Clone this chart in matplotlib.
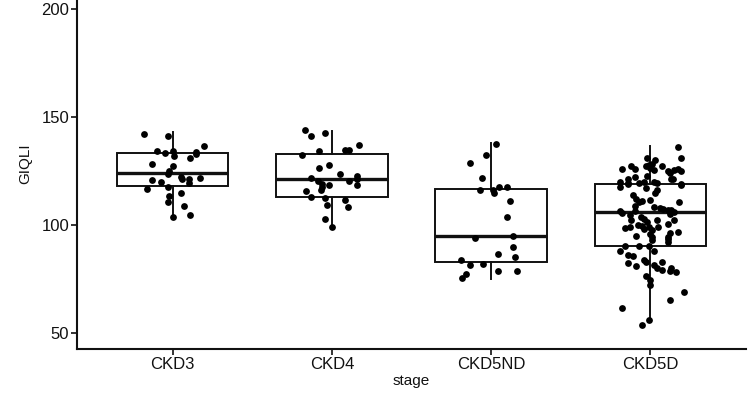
import matplotlib
matplotlib.use("Agg")
import matplotlib.pyplot as plt
import numpy as np

plt.rcParams['font.family'] = ['Liberation Sans', 'DejaVu Sans']

stages = ["CKD3", "CKD4", "CKD5ND", "CKD5D"]

# box statistics
whislo = [103.6, 98.9, 75.0, 55.7]
q1 = [118.0, 112.8, 82.9, 90.4]
med = [124.2, 121.2, 95.0, 105.9]
q3 = [133.2, 132.9, 116.7, 119.0]
whishi = [143.0, 143.7, 138.1, 136.7]

# jittered points: values and horizontal jitter (category units)
ckd3_vals = [142.4, 141.5, 136.7, 134.1, 133.0, 134.4, 133.6, 134.4, 131.9, 130.9,
             128.4, 127.3, 124.9, 123.6, 122.1, 121.4, 121.3, 121.6, 120.8, 119.9,
             119.4, 117.6, 116.8, 113.3, 114.7, 110.6, 108.9, 103.6, 104.5]
ckd3_jit = [-0.18, -0.03, 0.20, 0.15, 0.15, -0.10, -0.05, 0.00, 0.01, 0.11,
            -0.13, 0.00, -0.02, -0.03, 0.05, 0.06, 0.10, 0.17, -0.13, -0.07,
            0.10, -0.03, -0.16, -0.02, 0.05, -0.03, 0.07, 0.00, 0.11]

ckd4_vals = [144.0, 141.4, 142.5, 136.9, 135.0, 134.6, 134.4, 132.7, 127.9, 126.5,
             123.9, 121.8, 120.2, 122.7, 121.3, 120.2, 118.7, 119.0, 118.5, 117.5,
             116.3, 115.9, 112.8, 112.4, 111.7, 109.1, 108.3, 102.8, 99.2]
ckd4_jit = [-0.17, -0.13, -0.04, 0.17, 0.08, 0.11, -0.08, -0.19, -0.02, -0.08,
            0.05, -0.13, -0.09, 0.16, 0.16, 0.11, 0.16, -0.06, -0.02, -0.06,
            -0.07, -0.16, -0.13, -0.04, 0.08, -0.03, 0.10, -0.04, 0.00]

ckd5nd_vals = [137.5, 132.3, 128.8, 121.8, 116.3, 116.2, 114.7, 117.7, 117.7, 111.1,
               103.7, 94.0, 94.8, 89.7, 85.2, 86.4, 83.8, 81.6, 81.9, 78.8,
               78.8, 77.2, 75.3]
ckd5nd_jit = [0.03, -0.03, -0.13, -0.06, -0.07, 0.01, 0.02, 0.05, 0.10, 0.12,
              0.10, -0.10, 0.14, 0.14, 0.15, 0.04, -0.19, -0.13, -0.05, 0.04,
              0.16, -0.16, -0.18]

ckd5d_vals = [136.3, 130.9, 131.0, 130.0, 128.5, 125.8, 127.2, 125.8, 127.2, 126.3,
              125.5, 127.2, 125.2, 124.1, 125.5, 125.8, 125.2, 122.4, 122.7, 121.2,
              120.1, 121.2, 117.5, 118.9, 120.1, 120.0, 119.3, 118.5, 117.2, 116.2,
              114.9, 113.9, 112.0, 110.9, 111.2, 108.8, 111.6, 110.8, 108.5, 106.3,
              105.8, 104.6, 106.3, 108.0, 107.4, 107.0, 107.2, 106.1, 105.0, 103.8,
              102.7, 102.2, 101.5, 102.5, 102.2, 99.2, 98.5, 100.0, 99.5, 98.0,
              99.2, 97.8, 99.0, 100.4, 96.1, 96.9, 95.8, 94.9, 94.6, 94.3,
              93.5, 92.3, 93.0, 88.1, 90.3, 90.3, 90.3, 88.1, 86.1, 85.8,
              83.8, 82.7, 82.3, 80.8, 81.6, 82.7, 80.1, 79.1, 80.1, 78.1,
              78.6, 76.4, 74.6, 72.0, 68.8, 65.3, 61.3, 56.0, 53.7,
              128.0, 119.5, 119.4, 121.3, 119.1]
ckd5d_jit = [0.17, 0.19, -0.02, 0.03, 0.01, -0.18, -0.12, -0.10, -0.03, 0.00,
             0.02, 0.07, 0.11, 0.12, 0.15, 0.17, 0.19, -0.10, -0.02, 0.13,
             -0.19, -0.14, -0.19, -0.14, -0.04, 0.02, 0.04, 0.19, -0.03, 0.04,
             0.03, -0.11, -0.09, -0.07, -0.05, -0.10, 0.00, 0.18, 0.02, -0.19,
             -0.18, -0.13, -0.10, 0.06, 0.08, 0.11, 0.13, 0.15, 0.12, -0.06,
             -0.04, -0.12, -0.02, 0.04, 0.15, -0.13, -0.16, -0.08, -0.05, -0.04,
             -0.01, 0.01, 0.05, 0.11, 0.12, 0.17, 0.00, -0.09, 0.01, 0.11,
             0.11, 0.11, 0.01, -0.19, -0.16, -0.07, -0.01, 0.02, -0.14, -0.11,
             -0.04, -0.03, -0.14, -0.09, 0.02, 0.07, 0.04, 0.07, 0.13, 0.16,
             0.12, -0.03, 0.00, 0.00, 0.21, 0.12, -0.18, -0.01, -0.05,
             -0.01, -0.14, -0.07, 0.14, 0.19]

all_vals = [ckd3_vals, ckd4_vals, ckd5nd_vals, ckd5d_vals]
all_jit = [ckd3_jit, ckd4_jit, ckd5nd_jit, ckd5d_jit]

W, H = 750, 393
fig = plt.figure(figsize=(W / 100, H / 100), dpi=100)
left_px, right_px, bottom_px, top_px = 77, 746, 349, -6.7
ax = fig.add_axes([left_px / W, 1 - bottom_px / H,
                   (right_px - left_px) / W, (bottom_px - top_px) / H])

positions = np.arange(1, len(stages) + 1)
stats = [dict(label=s, whislo=a, q1=b, med=c, q3=d, whishi=e)
         for s, a, b, c, d, e in zip(stages, whislo, q1, med, q3, whishi)]
ax.bxp(stats, positions=positions, widths=0.7, showcaps=False, showfliers=False,
       patch_artist=True,
       boxprops=dict(facecolor='white', edgecolor='#111111', linewidth=1.4),
       medianprops=dict(color='#111111', linewidth=2.4, solid_capstyle='butt'),
       whiskerprops=dict(color='#111111', linewidth=1.4))

for p, vals, jit in zip(positions, all_vals, all_jit):
    ax.scatter(p + np.array(jit), vals, s=24, color='black', linewidths=0, zorder=3)

ax.set_xlim(0.4, 4.6)
ax.set_ylim(42.5, 207.5)
ax.set_yticks([50, 100, 150, 200])
ax.set_xticks(positions)
ax.set_xticklabels(stages)

for s in ['top', 'right']:
    ax.spines[s].set_visible(False)
for s in ['left', 'bottom']:
    ax.spines[s].set_linewidth(1.5)
    ax.spines[s].set_color('#111111')

ax.tick_params(axis='both', length=4, width=1.2, color='#111111',
               labelsize=12, labelcolor='#111111', pad=1.5)

ax.set_xlabel("stage", fontsize=11, color='#111111', labelpad=2)
ax.set_ylabel("GIQLI", fontsize=11, color='#111111', va='center')
ax.yaxis.set_label_coords((25 - left_px) / (right_px - left_px),
                          (bottom_px - 164) / (bottom_px - top_px))

fig.savefig("out.png", dpi=100)
